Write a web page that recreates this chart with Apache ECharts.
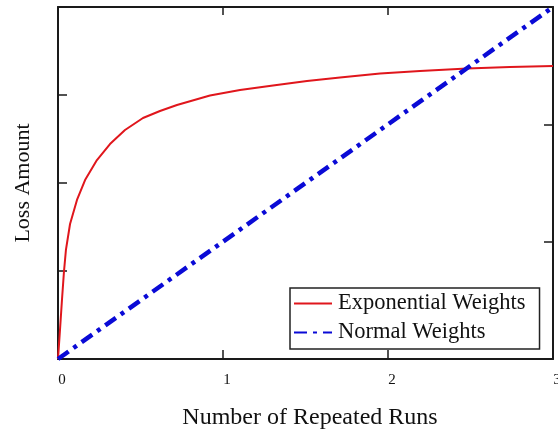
<!DOCTYPE html>
<html>
<head>
<meta charset="utf-8">
<script src="https://cdn.jsdelivr.net/npm/echarts@6/dist/echarts.min.js"></script>
<style>html,body{margin:0;padding:0;background:#fff}#c{width:558px;height:433px}</style>
</head>
<body>
<div id="c"></div>
<script>
var xTicks = ['0', '1', '2', '3'];
var expX = [0, 0.012, 0.024, 0.036, 0.048, 0.073, 0.115, 0.164, 0.236, 0.315, 0.406, 0.515, 0.618, 0.721, 0.921, 1.103, 1.303, 1.509, 1.709, 1.952, 2.194, 2.479, 2.739, 3.0];
var expY = [0, 0.33, 0.67, 0.989, 1.239, 1.534, 1.807, 2.034, 2.261, 2.443, 2.602, 2.739, 2.818, 2.886, 2.994, 3.057, 3.108, 3.159, 3.199, 3.244, 3.273, 3.301, 3.318, 3.33];
var normX = [0, 3];
var normY = [0, 4];

var font = '"Liberation Serif", "Times New Roman", serif';
function pairs(xs, ys) { return xs.map(function (x, i) { return [x, ys[i]]; }); }
var axisCol = '#1a1a1a';

var chart = echarts.init(document.getElementById('c'));
chart.setOption({
  animation: false,
  grid: { left: 58, right: 5, top: 7, bottom: 74, containLabel: false, outerBoundsMode: 'none' },
  legend: {
    orient: 'vertical',
    left: 290, top: 288,
    padding: [4, 14, 5, 3],
    itemGap: 6,
    itemWidth: 38,
    itemHeight: 14,
    borderColor: '#222', borderWidth: 1.5,
    backgroundColor: '#fff',
    itemStyle: { opacity: 0 },
    textStyle: { fontFamily: font, fontSize: 22.5, color: '#111', padding: [0, 0, 0, 1] },
    data: ['Exponential Weights', 'Normal Weights']
  },
  xAxis: [{
    type: 'value', min: 0, max: 3, interval: 1, position: 'bottom',
    name: 'Number of Repeated Runs', nameLocation: 'middle', nameGap: 47,
    nameTextStyle: { fontFamily: font, fontSize: 24, color: '#111', padding: [0, 0, 0, 9] },
    axisLine: { onZero: false, lineStyle: { color: axisCol, width: 2 } },
    axisTick: { inside: true, length: 9, lineStyle: { color: axisCol, width: 1.5 } },
    axisLabel: { fontFamily: font, fontSize: 15, color: '#111', margin: 14, padding: [0, 0, 0, 8],
      formatter: function (v) { return xTicks[Math.round(v)]; } },
    splitLine: { show: false }
  }, {
    type: 'value', min: 0, max: 3, interval: 1, position: 'top',
    axisLine: { show: true, onZero: false, lineStyle: { color: axisCol, width: 2 } },
    axisTick: { show: true, inside: true, length: 8, lineStyle: { color: axisCol, width: 1.5 } },
    axisLabel: { show: false }, splitLine: { show: false }
  }],
  yAxis: [{
    type: 'value', min: 0, max: 4, interval: 1, position: 'left',
    name: 'Loss Amount', nameLocation: 'middle', nameGap: 24,
    nameTextStyle: { fontFamily: font, fontSize: 22, color: '#111' },
    axisLine: { show: true, onZero: false, lineStyle: { color: axisCol, width: 2 } },
    axisTick: { show: true, inside: true, length: 9, lineStyle: { color: axisCol, width: 1.5 } },
    axisLabel: { show: false }, splitLine: { show: false }
  }, {
    type: 'value', min: 0, max: 3, interval: 1, position: 'right',
    axisLine: { show: true, onZero: false, lineStyle: { color: axisCol, width: 2 } },
    axisTick: { show: true, inside: true, length: 9, lineStyle: { color: axisCol, width: 1.5 } },
    axisLabel: { show: false }, splitLine: { show: false }
  }],
  series: [{
    name: 'Exponential Weights', type: 'line', smooth: false, showSymbol: false, symbol: 'none',
    xAxisIndex: 0, yAxisIndex: 0,
    lineStyle: { color: '#e0161c', width: 2, join: 'round' }, itemStyle: { color: '#e0161c' },
    data: pairs(expX, expY)
  }, {
    name: 'Normal Weights', type: 'line', showSymbol: false, symbol: 'none',
    xAxisIndex: 0, yAxisIndex: 0,
    lineStyle: { color: '#0a0ad6', width: 4.5, type: [13, 6, 4, 6] }, itemStyle: { color: '#0a0ad6' },
    data: pairs(normX, normY)
  }]
});
</script>
</body>
</html>
